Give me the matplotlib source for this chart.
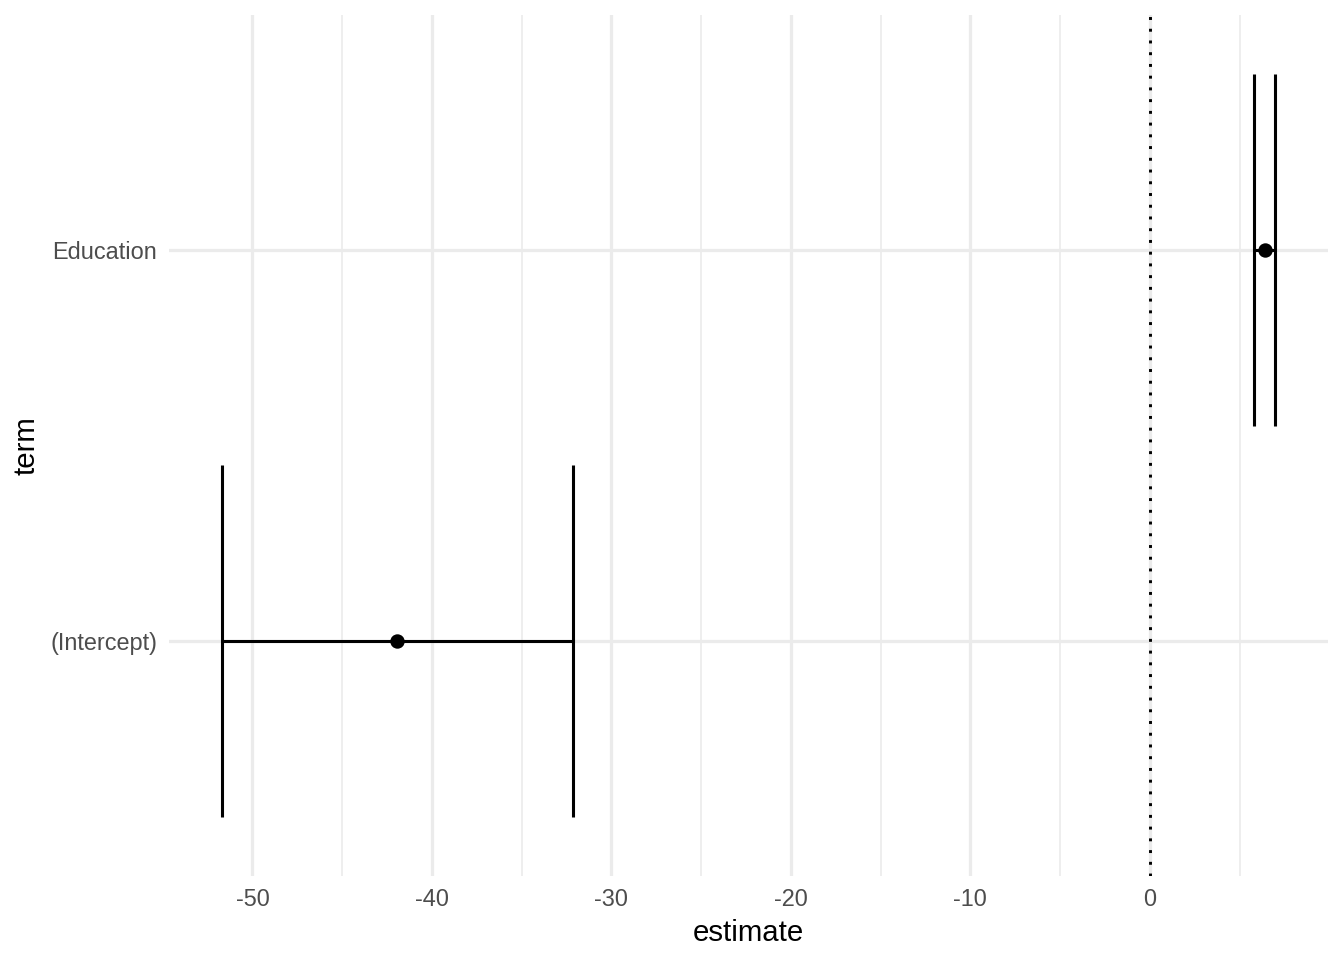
import matplotlib
matplotlib.use("Agg")
import matplotlib.pyplot as plt
from matplotlib.ticker import MultipleLocator

terms = ["(Intercept)", "Education"]
estimate = [-41.93, 6.40]
conf_low = [-51.71, 5.82]
conf_high = [-32.14, 6.99]

plt.rcParams['font.family'] = ['Liberation Sans', 'DejaVu Sans']
plt.rcParams['axes.unicode_minus'] = False

fig = plt.figure(figsize=(7, 5), dpi=192)
ax = fig.add_axes([169/1344, 1-876/960, (1328-169)/1344, (876-15)/960])

ypos = list(range(1, len(terms) + 1))
half_h = 0.45
lw = 1.15
for y, est, lo, hi in zip(ypos, estimate, conf_low, conf_high):
    ax.plot([lo, hi], [y, y], color='black', lw=lw, solid_capstyle='butt', zorder=3)
    ax.plot([lo, lo], [y - half_h, y + half_h], color='black', lw=lw, solid_capstyle='butt', zorder=3)
    ax.plot([hi, hi], [y - half_h, y + half_h], color='black', lw=lw, solid_capstyle='butt', zorder=3)
ax.plot(estimate, ypos, 'o', color='black', markersize=4.4, zorder=4)

ax.axvline(0, color='black', lw=1.1, linestyle=(0, (1, 3)), dash_capstyle='butt', zorder=2)

lo_all = min(conf_low); hi_all = max(conf_high)
rng = hi_all - lo_all
ax.set_xlim(lo_all - 0.05 * rng, hi_all + 0.05 * rng)
ax.set_ylim(0.4, len(terms) + 0.6)

ax.xaxis.set_major_locator(MultipleLocator(10))
ax.xaxis.set_minor_locator(MultipleLocator(5))
ax.set_yticks(ypos)
ax.set_yticklabels(terms)

ax.grid(which='major', axis='both', color='#EBEBEB', lw=1.2, zorder=0)
ax.grid(which='minor', axis='x', color='#EBEBEB', lw=0.6, zorder=0)
ax.set_axisbelow(True)
for s in ax.spines.values():
    s.set_visible(False)
ax.tick_params(which='both', length=0, labelsize=8.8, labelcolor='#4D4D4D', pad=4.5)

ax.set_xlabel('estimate', fontsize=11, color='black', labelpad=3)
ax.set_ylabel('term', fontsize=11, color='black', labelpad=3.5)

fig.savefig('out.png', dpi=192, facecolor='white')
